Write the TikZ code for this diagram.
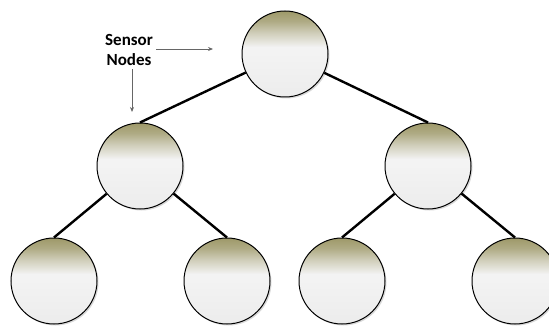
\documentclass[tikz,border=0pt]{standalone}
\usepackage{fontspec}
\setmainfont{Carlito}
\usetikzlibrary{shadows,arrows.meta}

\definecolor{olivetop}{RGB}{158,153,105}
\definecolor{nodelight}{RGB}{243,243,243}
\definecolor{nodebottom}{RGB}{236,236,236}
\pgfdeclareverticalshading{sensorshade}{100bp}{color(0bp)=(nodebottom); color(25bp)=(nodebottom); color(51bp)=(nodelight); color(54bp)=(nodelight); color(62bp)=(olivetop!40!nodelight); color(69bp)=(olivetop!80!nodelight); color(75bp)=(olivetop); color(100bp)=(olivetop)}

\tikzset{
  sensor/.style={circle, draw, line width=1pt, minimum size=86, inner sep=0,
    shading=sensorshade,
    drop shadow={shadow xshift=1.5pt, shadow yshift=-1.5pt, fill=black!30, opacity=.5}},
  link/.style={line width=2.4pt},
  pointer/.style={draw=black!60, line width=0.8pt, -{Stealth[length=5pt,width=4pt]}}
}

\begin{document}
\begin{tikzpicture}[x=1pt, y=-1pt]
\useasboundingbox (0,0) rectangle (549,326);

% tree of sensors
\node[sensor] (top) at (285,54) {};
\node[sensor] (ml) at (140,166) {};
\node[sensor] (mr) at (428,166) {};
\node[sensor] (ll) at (54,281) {};
\node[sensor] (lr) at (227,281) {};
\node[sensor] (rl) at (342,281) {};
\node[sensor] (rr) at (515,281) {};

\draw [link] (top) -- (ml.north);
\draw [link] (top) -- (mr.north);
\draw [link] (ml) -- (ll.north);
\draw [link] (ml) -- (lr.north);
\draw [link] (mr) -- (rl.north);
\draw [link] (mr) -- (rr.north);

% label with pointers
\node[font=\bfseries\fontsize{17}{20}\selectfont, align=center] (lbl) at (129,50) {Sensor\\Nodes};
\coordinate (toptip) at (213,49);
\coordinate (midtip) at (132,112);
\draw [pointer] (lbl.east |- toptip) -- (toptip);
\draw [pointer] (lbl.south -| midtip) -- (midtip);

\end{tikzpicture}
\end{document}
